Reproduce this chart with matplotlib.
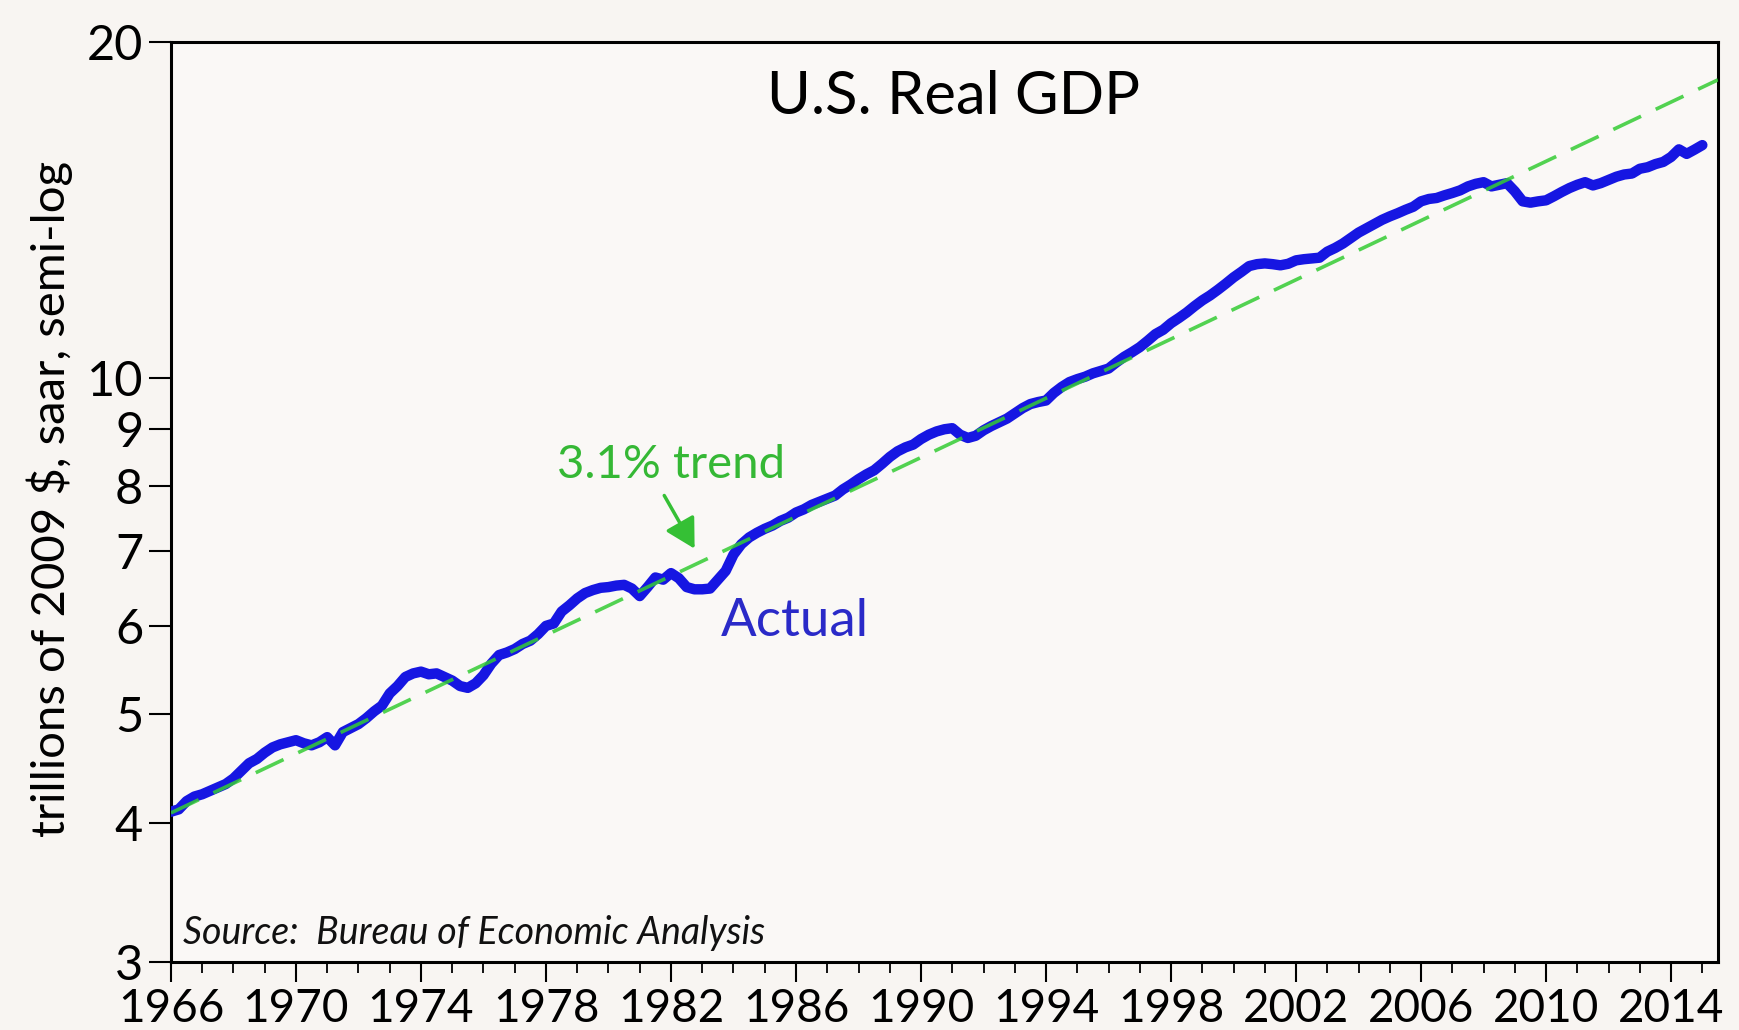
# -*- coding: utf-8 -*-
"""
PIB real dos EUA, escala semi-log, com tendencia de 3,1%.
"""

import matplotlib

matplotlib.use("Agg")
import matplotlib.pyplot as plt
import numpy as np
from matplotlib.ticker import FixedLocator, NullLocator

################## Dados ##################

ano_inicial = 1966
# PIB real trimestral (trilhoes de $ de 2009), 1966T1 .. 2015T1
pib_real = [
    4.09, 4.11, 4.18, 4.22,  # 1966
    4.24, 4.27, 4.30, 4.33,  # 1967
    4.38, 4.45, 4.52, 4.56,  # 1968
    4.62, 4.67, 4.70, 4.72,  # 1969
    4.74, 4.71, 4.69, 4.72,  # 1970
    4.77, 4.69, 4.82, 4.86,  # 1971
    4.90, 4.96, 5.03, 5.09,  # 1972
    5.22, 5.30, 5.40, 5.44,  # 1973
    5.46, 5.43, 5.44, 5.40,  # 1974
    5.36, 5.30, 5.28, 5.33,  # 1975
    5.42, 5.55, 5.65, 5.68,  # 1976
    5.72, 5.78, 5.82, 5.90,  # 1977
    6.00, 6.03, 6.18, 6.26,  # 1978
    6.35, 6.42, 6.46, 6.49,  # 1979
    6.50, 6.52, 6.53, 6.48,  # 1980
    6.38, 6.50, 6.63, 6.60,  # 1981
    6.69, 6.62, 6.50, 6.47,  # 1982
    6.47, 6.48, 6.60, 6.72,  # 1983
    6.95, 7.10, 7.20, 7.27,  # 1984
    7.33, 7.38, 7.45, 7.50,  # 1985
    7.58, 7.63, 7.70, 7.75,  # 1986
    7.80, 7.85, 7.95, 8.03,  # 1987
    8.12, 8.20, 8.27, 8.38,  # 1988
    8.50, 8.60, 8.67, 8.72,  # 1989
    8.82, 8.90, 8.96, 9.00,  # 1990
    9.02, 8.90, 8.84, 8.88,  # 1991
    8.98, 9.06, 9.13, 9.20,  # 1992
    9.30, 9.40, 9.48, 9.52,  # 1993
    9.55, 9.70, 9.82, 9.92,  # 1994
    9.98, 10.03, 10.10, 10.15,  # 1995
    10.20, 10.33, 10.45, 10.55,  # 1996
    10.66, 10.80, 10.95, 11.05,  # 1997
    11.20, 11.32, 11.45, 11.60,  # 1998
    11.74, 11.86, 12.00, 12.15,  # 1999
    12.31, 12.45, 12.60, 12.65,  # 2000
    12.67, 12.65, 12.62, 12.66,  # 2001
    12.75, 12.78, 12.80, 12.82,  # 2002
    12.98, 13.08, 13.20, 13.35,  # 2003
    13.50, 13.62, 13.74, 13.86,  # 2004
    13.96, 14.05, 14.15, 14.24,  # 2005
    14.40, 14.47, 14.50, 14.58,  # 2006
    14.65, 14.73, 14.85, 14.93,  # 2007
    14.98, 14.85, 14.90, 14.95,  # 2008
    14.70, 14.40, 14.36, 14.40,  # 2009
    14.43, 14.55, 14.68, 14.80,  # 2010
    14.90, 14.98, 14.88, 14.95,  # 2011
    15.05, 15.15, 15.22, 15.25,  # 2012
    15.40, 15.45, 15.55, 15.62,  # 2013
    15.78, 16.03, 15.88, 16.02,  # 2014
    16.17,  # 2015
]
anos = ano_inicial + 0.25 * np.arange(len(pib_real))

# Tendencia de 3,1% (reta em escala log entre os extremos)
tendencia_anos = [1966.0, 2015.5]
tendencia_valores = [4.08, 18.5]

anos_rotulados = list(range(1966, 2015, 4))
anos_menores = list(range(1966, 2016))
yticks = [3, 4, 5, 6, 7, 8, 9, 10, 20]

################## Grafico ##################

fonte = "Lato"
plt.rcParams["font.family"] = [fonte, "DejaVu Sans"]

cor_fundo = "#f8f5f2"
azul = "#1616e2"
verde = "#34cc34"

fig = plt.figure(figsize=(17.39, 10.30), dpi=100, facecolor=cor_fundo)
ax = fig.add_axes([0.0983, 0.0660, 0.8896, 0.8932])
ax.set_facecolor("#faf8f6")

ax.plot(anos, pib_real, color=azul, lw=7.5, solid_capstyle="round",
        solid_joinstyle="round", zorder=3)
ax.plot(tendencia_anos, tendencia_valores, color=verde, lw=2.6,
        dashes=(8.5, 4.5), alpha=0.85, zorder=4)

ax.set_yscale("log")
ax.set_ylim(3, 20)
ax.set_xlim(1966, 2015.5)

ax.yaxis.set_major_locator(FixedLocator(yticks))
ax.yaxis.set_minor_locator(NullLocator())
ax.set_yticklabels([str(v) for v in yticks])
ax.xaxis.set_major_locator(FixedLocator(anos_rotulados))
ax.xaxis.set_minor_locator(FixedLocator(anos_menores))
ax.set_xticklabels([str(a) for a in anos_rotulados])

ax.tick_params(axis="y", which="major", direction="out", length=16, width=1.5,
               pad=4, labelsize=35)
ax.tick_params(axis="x", which="major", direction="out", length=14.5, width=1.5,
               pad=4, labelsize=33)
ax.tick_params(axis="x", which="minor", direction="out", length=8, width=1.3)

for spine in ax.spines.values():
    spine.set_linewidth(2.2)
    spine.set_color("black")

ax.text(0.506, 0.94, "U.S. Real GDP", transform=ax.transAxes, ha="center",
        va="center", fontsize=43, color="black")

fig.text(0.0288, 0.5155, "trillions of 2009 $, saar, semi-log", rotation=90,
         ha="center", va="center", fontsize=34, color="black")

ax.text(1982.0, 8.36, "3.1% trend", ha="center", va="center", fontsize=34,
        color="#35b835")
ax.annotate("", xy=(1982.8, 7.0), xytext=(1981.74, 7.89),
            arrowprops=dict(arrowstyle="-|>,head_length=0.9,head_width=0.5",
                            mutation_scale=20, lw=2.5, color="#35c035"))

ax.text(1983.6, 6.05, "Actual", ha="left", va="center", fontsize=38,
        color="#2a2ac8")

ax.text(0.008, 0.02, "Source:  Bureau of Economic Analysis", transform=ax.transAxes,
        ha="left", va="baseline", fontsize=27, style="italic", color="#111111")

fig.savefig("out.png", dpi=100, facecolor=cor_fundo)
plt.close(fig)
